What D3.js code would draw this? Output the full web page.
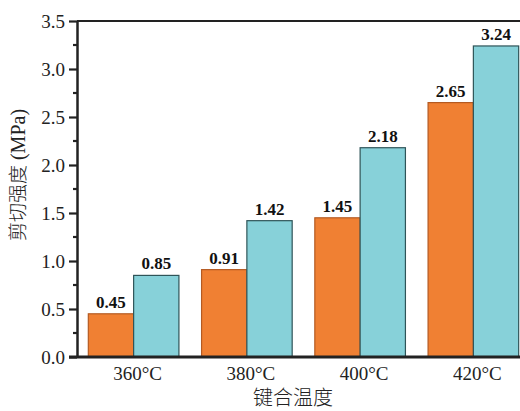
<!DOCTYPE html>
<html><head><meta charset="utf-8">
<script src="https://cdn.jsdelivr.net/npm/d3@7"></script>
<style>body{margin:0;background:#fff}svg{display:block}</style>
</head><body>
<svg id="c" width="520" height="411"></svg>
<script>
const categories = ["360°C", "380°C", "400°C", "420°C"];
const seriesA = [0.45, 0.91, 1.45, 2.65];
const seriesB = [0.85, 1.42, 2.18, 3.24];
const yTicks = [0, 0.5, 1.0, 1.5, 2.0, 2.5, 3.0, 3.5];
const yLabelCN = "剪切强度";
const yLabelUnit = " (MPa)";
const xLabel = "键合温度";

const svg = d3.select("#c");
const L = 77, R = 530, T = 21, B = 357;
const x = d3.scaleBand().domain(categories).range([L, R]).paddingInner(0.2).paddingOuter(0.1);
const y = d3.scaleLinear().domain([0, 3.5]).range([B, T]);
const serif = "'Liberation Serif','Times New Roman',serif";
const cjk = "'Noto Sans CJK SC',sans-serif";

const bw = x.bandwidth() / 2;
const g = svg.append("g");
const series = [{vals: seriesA, fill: "#f08033", stroke: "#b45a22", off: 0},
                {vals: seriesB, fill: "#87d1d9", stroke: "#2f5458", off: 1}];
series.forEach(s => {
  g.selectAll(null).data(categories).enter().append("rect")
    .attr("x", d => x(d) + s.off * bw)
    .attr("y", (d, i) => y(s.vals[i]))
    .attr("width", bw)
    .attr("height", (d, i) => B - y(s.vals[i]))
    .attr("fill", s.fill).attr("stroke", s.stroke).attr("stroke-width", 1.2);
  g.selectAll(null).data(categories).enter().append("text")
    .attr("x", d => x(d) + s.off * bw + bw / 2)
    .attr("y", (d, i) => y(s.vals[i]) - 6)
    .attr("text-anchor", "middle")
    .attr("font-family", serif).attr("font-weight", "bold").attr("font-size", 17).attr("fill", "#111")
    .text((d, i) => s.vals[i].toFixed(2));
});

// top frame line
svg.append("line").attr("x1", L).attr("x2", 520).attr("y1", T).attr("y2", T)
  .attr("stroke", "#222").attr("stroke-width", 2.2);

// y axis
const yAxis = d3.axisLeft(y).tickValues(yTicks).tickFormat(d3.format(".1f")).tickSize(8).tickSizeOuter(0);
const ya = svg.append("g").attr("transform", `translate(${L},0)`).call(yAxis);
ya.select(".domain").attr("stroke", "#222").attr("stroke-width", 2.5);
ya.selectAll(".tick line").attr("stroke", "#222").attr("stroke-width", 2.2);
ya.selectAll(".tick text").attr("font-family", serif).attr("font-size", 19).attr("fill", "#222").attr("dx", "-1px");
// minor ticks
const minor = d3.range(0.25, 3.5, 0.5);
svg.append("g").selectAll("line").data(minor).enter().append("line")
  .attr("x1", L - 4).attr("x2", L).attr("y1", d => y(d)).attr("y2", d => y(d))
  .attr("stroke", "#222").attr("stroke-width", 2.2);

// x axis
const xAxis = d3.axisBottom(x).tickSize(0).tickSizeOuter(0);
const xa = svg.append("g").attr("transform", `translate(0,${B})`).call(xAxis);
xa.select(".domain").attr("stroke", "#222").attr("stroke-width", 3).attr("d", `M${L - 8},0H520`);
xa.selectAll(".tick text").attr("font-family", serif).attr("font-size", 19).attr("fill", "#222").attr("dy", "1.05em").attr("dx", "4px");

svg.append("text").attr("x", 293).attr("y", 405).attr("text-anchor", "middle")
  .attr("font-family", cjk).attr("font-size", 20).attr("fill", "#222")
  .attr("font-weight", 300).text(xLabel);
const yl = svg.append("text").attr("transform", "translate(25,175) rotate(-90)").attr("text-anchor", "middle")
  .attr("fill", "#222");
yl.append("tspan").attr("font-family", cjk).attr("font-size", 19).attr("font-weight", 300).text(yLabelCN);
yl.append("tspan").attr("font-family", serif).attr("font-size", 20).text(yLabelUnit);
</script>
</body></html>
